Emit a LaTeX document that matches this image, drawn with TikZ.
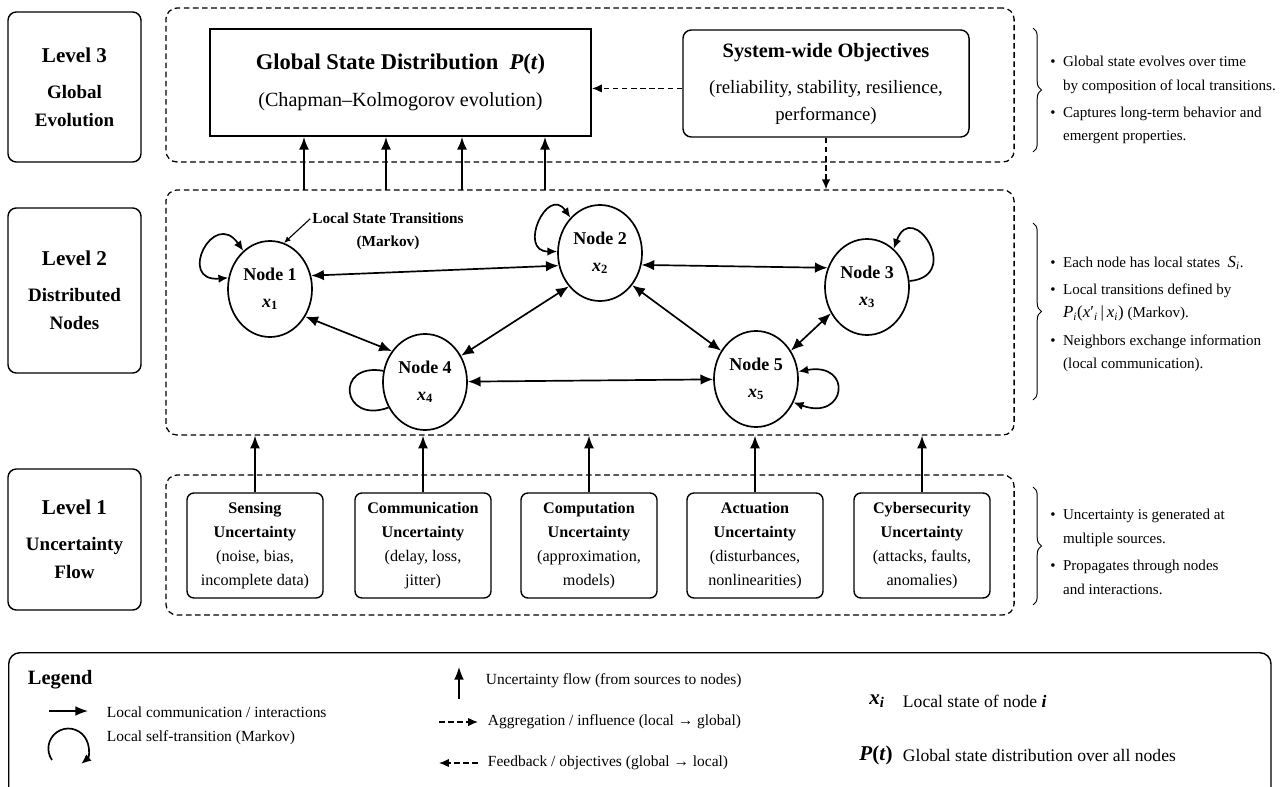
\documentclass[tikz,border=0pt]{standalone}
\usepackage{fontspec}
\setmainfont{Liberation Serif}
\usetikzlibrary{arrows.meta,shapes.geometric,decorations.pathreplacing}

\newcommand{\setfs}[2]{\fontsize{#1}{#2}\selectfont}

\begin{document}
\begin{tikzpicture}[x=0.025cm, y=-0.025cm, every node/.style={font=\setfs{11pt}{16pt}},
	lvl/.style={draw, line width=1pt, rounded corners=6pt, minimum width=3.325cm, align=center, font=\setfs{13.5pt}{20pt}\bfseries},
	cont/.style={draw, line width=0.9pt, dash pattern=on 4pt off 2.5pt, rounded corners=8pt, minimum width=21.2cm},
	st/.style={draw, ellipse, line width=1.2pt, minimum width=2.1cm, minimum height=2.4cm, inner sep=1pt, align=center, font=\setfs{12.8pt}{19pt}\bfseries},
	src/.style={draw, line width=1pt, rounded corners=5pt, minimum width=3.4cm, minimum height=2.625cm, align=center, font=\setfs{11.5pt}{17pt}},
	link/.style={<->, >={Latex[length=9pt,width=7.5pt]}, line width=1.2pt},
	selfloop/.style={<->, >={Latex[length=7pt,width=6pt]}, line width=1.2pt},
	flow/.style={->, >={Latex[length=9pt,width=7pt]}, line width=1.1pt},
	agg/.style={->, >={Latex[length=7pt,width=6pt]}, line width=1pt, dash pattern=on 4pt off 2.5pt},
	brc/.style={decorate, decoration={brace, amplitude=6pt}, line width=0.7pt},
	note/.style={anchor=west, align=left, inner sep=0pt, font=\setfs{10.7pt}{16.8pt}}]
	\useasboundingbox (0,0) rectangle (1283,787);
	\clip (0,0) rectangle (1283,787);
	% level labels
	\node[lvl, minimum height=3.75cm] (lv3) at (74.5,87) {{\setfs{15pt}{18pt}Level 3}\\[5.5pt]Global\\Evolution};
	\node[lvl, minimum height=4.125cm] (lv2) at (74.5,290.5) {{\setfs{15pt}{18pt}Level 2}\\[5.5pt]Distributed\\Nodes};
	\node[lvl, minimum height=3.525cm] (lv1) at (74.5,539.5) {{\setfs{15pt}{18pt}Level 1}\\[5.5pt]Uncertainty\\Flow};
	% dashed layers
	\node[cont, minimum height=3.85cm] (c3) at (590,85) {};
	\node[cont, minimum height=6.125cm] (c2) at (590,312.5) {};
	\node[cont, minimum height=3.5cm] (c1) at (590,545) {};
	% level 3
	\node[draw, line width=1.3pt, minimum width=9.525cm, minimum height=2.675cm, align=center, font=\setfs{14.3pt}{20pt}] (gsd) at (400.5,82.5) {{\setfs{16pt}{20pt}\bfseries Global State Distribution~~\textit{P}(\textit{t})}\\[6pt](Chapman--Kolmogorov evolution)};
	\node[draw, line width=1pt, rounded corners=6pt, minimum width=7.15cm, minimum height=2.675cm, align=center, font=\setfs{13.4pt}{19.2pt}] (obj) at (826,83.5) {{\setfs{14.5pt}{18pt}\bfseries System-wide Objectives}\\[6.4pt](reliability, stability, resilience,\\performance)};
	\draw[agg] ([yshift=-3.5pt]obj.west) -- ([yshift=-3.5pt]obj.west -| gsd.east);
	\draw[agg] (obj.south) -- (obj.south |- c2.north);
	\coordinate (u1) at (304,190);
	\coordinate (u2) at (386,190);
	\coordinate (u3) at (462,190);
	\coordinate (u4) at (545,190);
	\draw[flow] (u1) -- (u1 |- gsd.south);
	\draw[flow] (u2) -- (u2 |- gsd.south);
	\draw[flow] (u3) -- (u3 |- gsd.south);
	\draw[flow] (u4) -- (u4 |- gsd.south);
	% level 2
	\node[st] (n1) at (270,289) {Node 1\\\textit{x}\textsubscript{1}};
	\node[st] (n2) at (600,253) {Node 2\\\textit{x}\textsubscript{2}};
	\node[st] (n3) at (867,287) {Node 3\\\textit{x}\textsubscript{3}};
	\node[st] (n4) at (425,382) {Node 4\\\textit{x}\textsubscript{4}};
	\node[st] (n5) at (756,379) {Node 5\\\textit{x}\textsubscript{5}};
	\draw[link] (n1.18) -- (n2.197);
	\draw[link] (n2.-16) -- (n3.154);
	\draw[link] (n1.-38) -- (n4.137);
	\draw[link] (n2.227) -- (n4.36);
	\draw[link] (n2.-45) -- (n5.141);
	\draw[link] (n3.216) -- (n5.39);
	\draw[link] (n4) -- (n5);
	\draw[selfloop] (n1.125) .. controls +(125:1.3cm) and +(185:1.3cm) .. (n1.165);
	\draw[selfloop] (n2.130) .. controls +(125:1cm) and +(180:1cm) .. (n2.178);
	\draw[selfloop, <-] (n3.55) .. controls +(70:1.35cm) and +(5:1.35cm) .. (n3.8);
	\draw[selfloop, -] (n4.165) .. controls +(170:1.25cm) and +(200:1.25cm) .. (n4.215);
	\draw[selfloop] (n5.10) .. controls +(10:1.4cm) and +(-20:1.4cm) .. (n5.-32);
	\node[align=center, font=\setfs{10.9pt}{16.4pt}\bfseries] (lst) at (388,231) {Local State Transitions\\(Markov)};
	\draw[->, >={Latex[length=4.5pt,width=4pt]}, line width=0.8pt] ([xshift=2pt,yshift=-8pt]lst.north west) -- (n1.73);
	% level 1
	\node[src] (sens) at (255,545.5) {\textbf{Sensing}\\\textbf{Uncertainty}\\(noise, bias,\\incomplete data)};
	\node[src] (comm) at (423,545.5) {\textbf{Communication}\\\textbf{Uncertainty}\\(delay, loss,\\jitter)};
	\node[src] (comp) at (589,545.5) {\textbf{Computation}\\\textbf{Uncertainty}\\(approximation,\\models)};
	\node[src] (act) at (755,545.5) {\textbf{Actuation}\\\textbf{Uncertainty}\\(disturbances,\\nonlinearities)};
	\node[src] (cyb) at (922,545.5) {\textbf{Cybersecurity}\\\textbf{Uncertainty}\\(attacks, faults,\\anomalies)};
	\draw[flow] (sens.north) -- (sens.north |- c2.south);
	\draw[flow] (comm.north) -- (comm.north |- c2.south);
	\draw[flow] (comp.north) -- (comp.north |- c2.south);
	\draw[flow] (act.north) -- (act.north |- c2.south);
	\draw[flow] (cyb.north) -- (cyb.north |- c2.south);
	% notes on the right
	\draw[brc] (1033,28) -- (1033,152);
	\draw[brc] (1033,223) -- (1033,400);
	\draw[brc] (1033,487) -- (1033,605);
	\node[note] (t3) at (1050,100) {\textbullet\ \ Global state evolves over time\\\hphantom{\textbullet\ \ }by composition of local transitions.\\[2.5pt]\textbullet\ \ Captures long-term behavior and\\\hphantom{\textbullet\ \ }emergent properties.};
	\node[note] (t2) at (1050,314) {\textbullet\ \ Each node has local states~~{\setfs{12pt}{16pt}\textit{S}\textsubscript{\textit{i}}}.\\[2.5pt]\textbullet\ \ Local transitions defined by\\\hphantom{\textbullet\ \ }{\setfs{12pt}{16pt}\textit{P}\textsubscript{\textit{i}}(\textit{x}′\textsubscript{\textit{i}}\,|\,\textit{x}\textsubscript{\textit{i}})} (Markov).\\[2.5pt]\textbullet\ \ Neighbors exchange information\\\hphantom{\textbullet\ \ }(local communication).};
	\node[note] (t1) at (1050,552) {\textbullet\ \ Uncertainty is generated at\\\hphantom{\textbullet\ \ }multiple sources.\\[2.5pt]\textbullet\ \ Propagates through nodes\\\hphantom{\textbullet\ \ }and interactions.};
	% legend
	\node[draw, line width=1pt, rounded corners=8pt, anchor=north west, minimum width=31.55cm, minimum height=4cm] (lgd) at (8,652) {};
	\node[anchor=west, font=\setfs{14.5pt}{18pt}\bfseries] (lgt) at (23,680) {Legend};
	\coordinate (k1a) at (49,711);
	\coordinate (k1b) at (88,711);
	\draw[flow] (k1a) -- (k1b);
	\node[anchor=west] (k1) at (102,712) {Local communication / interactions};
	\coordinate (k2a) at (52,760);
	\draw[selfloop, ->] (k2a) arc[start angle=215, end angle=-50, radius=0.5cm];
	\node[anchor=west] (k2) at (102,738) {Local self-transition (Markov)};
	\coordinate (k3a) at (459,699);
	\coordinate (k3b) at (459,667);
	\draw[flow] (k3a) -- (k3b);
	\node[anchor=west] (k3) at (481,681) {Uncertainty flow (from sources to nodes)};
	\coordinate (k4a) at (439,722);
	\coordinate (k4b) at (478,722);
	\draw[agg] (k4a) -- (k4b);
	\node[anchor=west] (k4) at (483,722) {Aggregation / influence (local → global)};
	\coordinate (k5a) at (478,763);
	\coordinate (k5b) at (439,763);
	\draw[agg] (k5a) -- (k5b);
	\node[anchor=west] (k5) at (483,763) {Feedback / objectives (global → local)};
	\node[font=\setfs{15pt}{18pt}\bfseries] (k6s) at (877,701) {\textit{x}\textsubscript{\textit{i}}};
	\node[anchor=west, font=\setfs{12.5pt}{16pt}] (k6) at (898,701) {Local state of node \textbf{\textit{i}}};
	\node[font=\setfs{15pt}{18pt}\bfseries] (k7s) at (876,755) {\textit{P}(\textit{t})};
	\node[anchor=west, font=\setfs{12.5pt}{16pt}] (k7) at (898,755) {Global state distribution over all nodes};
\end{tikzpicture}
\end{document}
